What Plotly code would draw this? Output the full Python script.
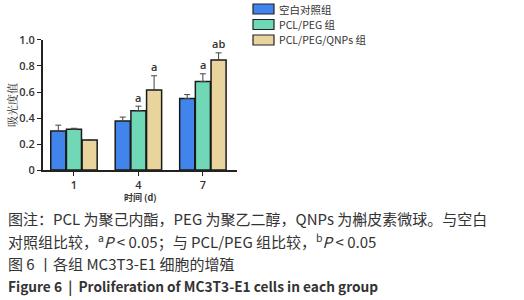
import plotly.graph_objects as go

days = ["1", "4", "7"]
series_names = ["空白对照组", "PCL/PEG 组", "PCL/PEG/QNPs 组"]
control = [0.30, 0.377, 0.55]
control_err = [0.045, 0.03, 0.03]
pclpeg = [0.313, 0.456, 0.68]
pclpeg_err = [0.008, 0.035, 0.06]
qnps = [0.23, 0.615, 0.846]
qnps_err = [0.0, 0.11, 0.055]
sig_pclpeg = ["", "a", "a"]
sig_qnps = ["", "a", "ab"]
y_ticks = [0, 0.2, 0.4, 0.6, 0.8, 1.0]
y_ticklabels = ["0", "0.2", "0.4", "0.6", "0.8", "1.0"]

colors = ["#4184EC", "#70D8B6", "#E9D49E"]
values = [control, pclpeg, qnps]
errs = [control_err, pclpeg_err, qnps_err]

fig = go.Figure()
for name, v, e, c in zip(series_names, values, errs, colors):
    fig.add_trace(go.Bar(
        x=days, y=v, name=name, showlegend=False,
        marker=dict(color=c, line=dict(color="#1a1a1a", width=1.5)),
        error_y=dict(type="data", array=e, arrayminus=[0]*len(e), symmetric=False,
                     color="#444", thickness=1, width=3),
    ))

fnt = "Open Sans, Noto Sans CJK SC, sans-serif"
# significance letters
bar_px = 15.7
for offs, sig, v, e in [(0, sig_pclpeg, pclpeg, pclpeg_err), (1, sig_qnps, qnps, qnps_err)]:
    for i, (s, vv, ee) in enumerate(zip(sig, v, e)):
        if s:
            fig.add_annotation(x=i, y=vv + ee, text=s, showarrow=False, xref="x", yref="y",
                               xshift=offs * bar_px, yshift=9,
                               font=dict(size=11, color="#333", family=fnt, weight=600))

fig.update_layout(
    width=524, height=300, margin=dict(l=0, r=0, t=0, b=0, autoexpand=False),
    paper_bgcolor="white", plot_bgcolor="white",
    barmode="group", bargap=0.27, bargroupgap=0.04,
    showlegend=False,
    xaxis=dict(domain=[0.0815, 0.452], range=[-0.485, 2.527], type="category",
               showline=True, linecolor="#222", linewidth=1.5, ticks="outside",
               ticklen=4, tickcolor="#222", tickfont=dict(size=11, color="#333", family=fnt, weight=600)),
    yaxis=dict(domain=[0.4333, 0.8667], range=[0, 1.0], tickvals=y_ticks, ticktext=y_ticklabels,
               showline=True, linecolor="#222", linewidth=1.5, ticks="outside", ticklen=4,
               tickcolor="#222", showgrid=False, zeroline=False,
               tickfont=dict(size=11, color="#333", family=fnt, weight=600)),
)

# legend (drawn manually to match wide swatches)
W, H = 524, 300
leg_rows = [9, 24.5, 40]
for name, c, yy in zip(series_names, colors, leg_rows):
    fig.add_shape(type="rect", xref="paper", yref="paper",
                  x0=253/W, x1=274/W, y0=1 - (yy + 5)/H, y1=1 - (yy - 5)/H,
                  fillcolor=c, line=dict(color="#222", width=1.2))
    fig.add_annotation(x=277/W, y=1 - yy/H, xref="paper", yref="paper", text=name,
                       showarrow=False, xanchor="left", yanchor="middle",
                       font=dict(size=10.5, color="#333", family="Noto Sans CJK SC, sans-serif"))

# axis titles
fig.add_annotation(x=12/W, y=1 - 105/H, xref="paper", yref="paper", text="吸光度值", textangle=-90,
                   xanchor="center", yanchor="middle",
                   showarrow=False, font=dict(size=11, color="#333", family="Noto Serif CJK SC, Noto Sans CJK SC, serif"))
fig.add_annotation(x=140/W, y=1 - 197/H, xref="paper", yref="paper", text="<b>时间 (d)</b>",
                   xanchor="center", yanchor="middle",
                   showarrow=False, font=dict(size=9, color="#333", family="Noto Sans CJK SC, sans-serif"))

# caption
cap_font = dict(size=15, color="#333", family="Noto Sans CJK SC, sans-serif")
captions = [
    (218, "图注：PCL 为聚己内酯，PEG 为聚乙二醇，QNPs 为槲皮素微球。与空白", cap_font),
    (241, "对照组比较，<sup>a</sup><i>P</i> < 0.05；与 PCL/PEG 组比较，<sup>b</sup><i>P</i> < 0.05", cap_font),
    (263, "图 6 丨各组 MC3T3-E1 细胞的增殖", cap_font),
    (286, "<b>Figure 6  |  Proliferation of MC3T3-E1 cells in each group</b>",
     dict(size=13.7, color="#333", family="Noto Sans CJK SC, sans-serif")),
]
for yy, t, f in captions:
    fig.add_annotation(x=6/W, y=1 - yy/H, xref="paper", yref="paper", text=t, showarrow=False,
                       xanchor="left", yanchor="middle", font=f)

fig.write_html("out.html", config={"displayModeBar": False},
               post_script="document.body.style.margin='0';document.body.style.overflow='hidden';")
